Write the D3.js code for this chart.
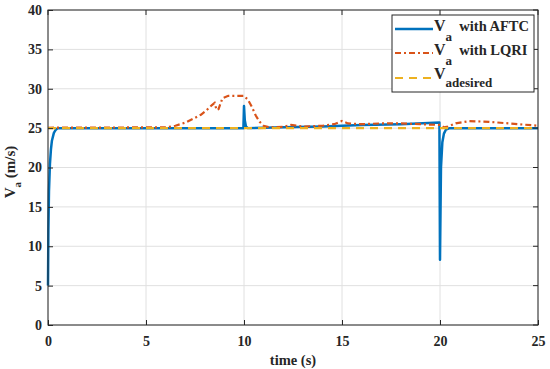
<!DOCTYPE html>
<html>
<head>
<meta charset="utf-8">
<script src="https://cdn.jsdelivr.net/npm/d3@7"></script>
<style>
  body { margin: 0; background: #fff; }
  text { font-family: "Liberation Serif", "Times New Roman", serif; font-weight: bold; fill: #262626; }
</style>
</head>
<body>
<svg id="chart" width="550" height="369"></svg>
<script>
'use strict'

// time (s) and airspeed (m/s)
const aftcTime = [0, 0.02, 0.05, 0.1, 0.15, 0.2, 0.3, 0.4, 0.5, 0.7, 9.97, 10.0, 10.04, 10.1, 10.2, 12, 14, 15, 16, 18, 19.97, 20.0, 20.05, 20.12, 20.2, 20.3, 20.5, 25];
const aftcVa   = [5, 12, 17, 20.5, 22.3, 23.4, 24.4, 24.8, 25, 25, 25, 27.8, 26, 25.2, 25, 25.1, 25.2, 25.3, 25.4, 25.5, 25.7, 8.3, 20, 23.2, 24.3, 24.8, 25, 25];

const lqriTime = [0, 6, 6.5, 7, 7.5, 7.8, 8.1, 8.35, 8.5, 8.6, 8.7, 8.9, 9.2, 10.0, 10.2, 10.4, 10.6, 10.8, 11.0, 11.3, 12, 12.4, 12.7, 13, 14, 14.6, 15, 15.3, 16, 17, 18, 19, 20, 20.2, 20.4, 20.8, 21.5, 22.5, 23.5, 25];
const lqriVa   = [25.05, 25.1, 25.3, 25.7, 26.3, 26.7, 27.3, 27.9, 28.2, 27.3, 27.4, 28.8, 29.1, 29.1, 28.6, 27.7, 26.6, 25.8, 25.3, 25.1, 25.15, 25.4, 25.3, 25.2, 25.3, 25.5, 25.9, 25.6, 25.5, 25.6, 25.6, 25.5, 25.4, 25.1, 25.2, 25.6, 25.9, 25.8, 25.6, 25.3];

const desiredTime = [0, 25];
const desiredVa   = [25, 25];

const xTicks = [0, 5, 10, 15, 20, 25];
const yTicks = [0, 5, 10, 15, 20, 25, 30, 35, 40];

const colors = { aftc: '#0072BD', lqri: '#D95319', desired: '#EDB120' };

const svg = d3.select('#chart');
const margin = { left: 48, right: 12, top: 10, bottom: 44 };
const W = 550, H = 369;

const x = d3.scaleLinear().domain([0, 25]).range([margin.left, W - margin.right]);
const y = d3.scaleLinear().domain([0, 40]).range([H - margin.bottom, margin.top]);

// grid
const grid = svg.append('g').attr('stroke', '#e0e0e0').attr('stroke-width', 1);
grid.selectAll('.gx').data(xTicks).enter().append('line')
  .attr('x1', d => x(d)).attr('x2', d => x(d))
  .attr('y1', y(0)).attr('y2', y(40));
grid.selectAll('.gy').data(yTicks).enter().append('line')
  .attr('x1', x(0)).attr('x2', x(25))
  .attr('y1', d => y(d)).attr('y2', d => y(d));

// series
const line = d3.line().x(d => x(d[0])).y(d => y(d[1]));
const zip = (a, b) => a.map((t, i) => [t, b[i]]);

const plot = svg.append('g').attr('fill', 'none');
plot.append('path')
  .datum(zip(aftcTime, aftcVa))
  .attr('d', line)
  .attr('stroke', colors.aftc).attr('stroke-width', 2.5)
  .attr('stroke-linejoin', 'round');
plot.append('path')
  .datum(zip(lqriTime, lqriVa))
  .attr('d', line)
  .attr('stroke', colors.lqri).attr('stroke-width', 2.2)
  .attr('stroke-dasharray', '6,3,2,3');
plot.append('path')
  .datum(zip(desiredTime, desiredVa))
  .attr('d', line)
  .attr('stroke', colors.desired).attr('stroke-width', 2.2)
  .attr('stroke-dasharray', '8,6');

// axes, ticks inside
const xAxis = d3.axisBottom(x).tickValues(xTicks).tickSizeInner(-5).tickSizeOuter(0).tickPadding(11);
const yAxis = d3.axisLeft(y).tickValues(yTicks).tickSizeInner(-5).tickSizeOuter(0).tickPadding(6);

const gx = svg.append('g').attr('transform', `translate(0,${y(0)})`).call(xAxis);
const gy = svg.append('g').attr('transform', `translate(${x(0)},0)`).call(yAxis);
[gx, gy].forEach(g => {
  g.select('.domain').remove();
  g.selectAll('line').attr('stroke', '#262626');
  g.selectAll('text').attr('font-size', 14).attr('font-family', 'Liberation Serif').attr('font-weight', 'bold').attr('fill', '#262626');
});

// top/right ticks
const tk = svg.append('g').attr('stroke', '#262626');
tk.selectAll('.tt').data(xTicks).enter().append('line')
  .attr('x1', d => x(d)).attr('x2', d => x(d)).attr('y1', y(40)).attr('y2', y(40) + 5);
tk.selectAll('.tr').data(yTicks).enter().append('line')
  .attr('x1', x(25)).attr('x2', x(25) - 5).attr('y1', d => y(d)).attr('y2', d => y(d));

// frame
svg.append('rect')
  .attr('x', x(0)).attr('y', y(40))
  .attr('width', x(25) - x(0)).attr('height', y(0) - y(40))
  .attr('fill', 'none').attr('stroke', '#262626').attr('stroke-width', 1);

// axis labels
svg.append('text')
  .attr('x', (x(0) + x(25)) / 2).attr('y', 365)
  .attr('text-anchor', 'middle').attr('font-size', 14.5)
  .text('time (s)');

const yl = svg.append('text')
  .attr('transform', 'translate(15,172) rotate(-90)')
  .attr('text-anchor', 'middle').attr('font-size', 15);
yl.append('tspan').text('V');
yl.append('tspan').attr('font-size', 11).attr('dy', 6).text('a');
yl.append('tspan').attr('dy', -6).text(' (m/s)');

// legend
const legendItems = [
  { sub: 'a', rest: ' with AFTC', color: colors.aftc, dash: null, w: 2.5, ly: 29, ty: 30.5, sdy: 10 },
  { sub: 'a', rest: ' with LQRI', color: colors.lqri, dash: '6,3,2,3', w: 2.2, ly: 53, ty: 55, sdy: 10 },
  { sub: 'adesired', rest: '', color: colors.desired, dash: '8,6', w: 2.2, ly: 78, ty: 79, sdy: 7.5 }
];
const lg = svg.append('g').attr('transform', 'translate(392,15)');
lg.append('rect').attr('width', 142).attr('height', 77)
  .attr('fill', '#fff').attr('stroke', '#262626').attr('stroke-width', 1);
legendItems.forEach(d => {
  lg.append('line')
    .attr('x1', 3).attr('x2', 41).attr('y1', d.ly - 15).attr('y2', d.ly - 15)
    .attr('stroke', d.color).attr('stroke-width', d.w)
    .attr('stroke-dasharray', d.dash);
  const t = lg.append('text').attr('x', 42).attr('y', d.ty - 15).attr('font-size', 16);
  t.append('tspan').text('V');
  t.append('tspan').attr('font-size', 13).attr('dy', d.sdy).text(d.sub);
  if (d.rest) {
    t.append('tspan').attr('dy', -d.sdy).attr('font-size', 14.5).text('\u00a0' + d.rest);
  }
});
</script>
</body>
</html>
